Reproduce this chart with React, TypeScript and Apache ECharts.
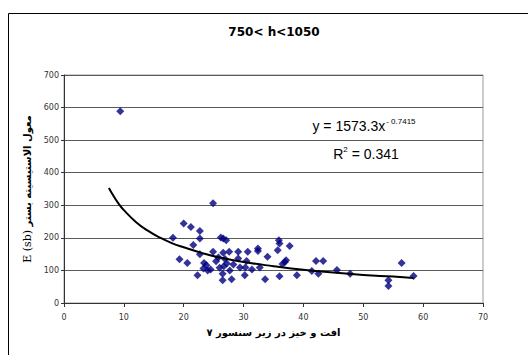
import React, { useEffect, useRef } from "react";
import * as echarts from "echarts";

const titleText = "750< h<1050";
const xAxisName = "افت و خیز در زیر سنسور ۷";
const yAxisNameLatin = "E (sb) ";
const yAxisNamePersian = "معول الاستیسیته بستر";
const xTicks = [0, 10, 20, 30, 40, 50, 60, 70];
const yTicks = [0, 100, 200, 300, 400, 500, 600, 700];

const scatterX = [
  9.4, 18.2, 19.3, 20.0, 20.6, 21.2, 21.6, 22.3, 22.7, 22.7, 22.7, 23.4, 23.3, 24.5, 24.9, 24.9,
  25.4, 26.2, 26.6, 27.1, 26.6, 27.6, 26.7, 27.2, 26.5, 26.5, 28.0, 27.7, 29.1, 29.1, 29.4, 30.2,
  30.7, 30.5, 30.3, 31.4, 32.4, 32.4, 32.7, 33.6, 34.0, 35.9, 36.0, 35.7, 36.0, 37.7, 36.9, 37.1,
  38.9, 36.5, 41.4, 42.1, 43.3, 42.5, 45.6, 47.8, 54.2, 54.2, 56.4, 58.4, 24.0, 26.0, 28.3, 25.8,
  23.8, 26.9,
];
const scatterY = [
  589, 200, 134, 244, 123, 233, 178, 85, 221, 198, 150, 123, 106, 103, 306, 157,
  128, 201, 198, 193, 154, 157, 113, 121, 90, 70, 73, 100, 157, 137, 109, 85,
  157, 129, 109, 103, 167, 160, 109, 73, 142, 193, 183, 162, 82, 175, 126, 131,
  85, 120, 98, 129, 129, 90, 101, 90, 70, 52, 123, 83, 100, 108, 118, 140,
  116, 135,
];

const trendX = [7.5, 8, 9, 10, 12, 14, 16, 18, 20, 23, 26, 30, 35, 40, 45, 50, 55, 58.4];
const trendY = [353, 337, 308, 285, 249, 222, 201, 184, 171, 154, 140, 126, 113, 102, 94, 86, 81, 77];

const eqMain = "y = 1573.3x";
const eqExp = "- 0.7415";
const r2Value = "0.341";

export default function App() {
  const ref = useRef<HTMLDivElement>(null);

  useEffect(() => {
    if (!ref.current) return;
    const chart = echarts.init(ref.current, null, { renderer: "svg" });
    const scatterData = scatterX.map((x, i) => [x, scatterY[i]]);
    const trendData = trendX.map((x, i) => [x, trendY[i]]);
    chart.setOption({
      animation: false,
      backgroundColor: "#ffffff",
      title: {
        text: titleText,
        left: 269,
        textAlign: "center",
        top: 21,
        textStyle: { fontFamily: "DejaVu Sans", fontWeight: "bold", fontSize: 12, color: "#000" },
      },
      grid: {
        left: 64,
        right: 45,
        top: 75,
        bottom: 52,
        show: true,
        borderColor: "#9a9a9a",
        borderWidth: 1,
        backgroundColor: "#fff",
      },
      xAxis: {
        type: "value",
        min: xTicks[0],
        max: xTicks[xTicks.length - 1],
        interval: 10,
        name: xAxisName,
        nameLocation: "middle",
        nameGap: 24,
        nameTextStyle: { fontFamily: "DejaVu Sans", fontWeight: "bold", fontSize: 10, color: "#000" },
        axisLine: { show: true, onZero: false, lineStyle: { color: "#333", width: 1 } },
        axisTick: { show: true, length: 4, lineStyle: { color: "#333" } },
        axisLabel: { fontFamily: "DejaVu Sans", fontSize: 8, color: "#333", margin: 10 },
        splitLine: { show: false },
      },
      yAxis: {
        type: "value",
        min: yTicks[0],
        max: yTicks[yTicks.length - 1],
        interval: 100,
        name: "{lat|" + yAxisNameLatin + "}{per|" + yAxisNamePersian + "}",
        nameLocation: "middle",
        nameGap: 25,
        nameRotate: 90,
        nameTextStyle: {
          rich: {
            lat: { fontFamily: "DejaVu Serif", fontSize: 11, color: "#000" },
            per: { fontFamily: "DejaVu Sans", fontSize: 10, fontWeight: "bold", color: "#000" },
          },
        },
        axisLine: { show: true, lineStyle: { color: "#333", width: 1 } },
        axisTick: { show: true, length: 3, lineStyle: { color: "#333" } },
        axisLabel: { fontFamily: "DejaVu Sans", fontSize: 8, color: "#333", margin: 5 },
        splitLine: { show: true, lineStyle: { color: "#5a5a5a", width: 1 } },
      },
      graphic: [
        {
          type: "rect",
          shape: { x: 8.5, y: 13.5, width: 600, height: 400 },
          style: { fill: "none", stroke: "#000", lineWidth: 1 },
          silent: true,
          z: 10,
        },
        {
          type: "text",
          x: 364,
          y: 126,
          style: {
            text: "{m|" + eqMain + "}{e|" + eqExp + "}",
            align: "center",
            verticalAlign: "middle",
            rich: {
              m: { fontFamily: "Liberation Sans", fontSize: 14, fill: "#000" },
              e: { fontFamily: "Liberation Sans", fontSize: 8, fill: "#000", padding: [0, 0, 10, 1] },
            },
          },
          z: 10,
        },
        {
          type: "text",
          x: 366,
          y: 154,
          style: {
            text: "{m|R}{e|2}{m| = " + r2Value + "}",
            align: "center",
            verticalAlign: "middle",
            rich: {
              m: { fontFamily: "Liberation Sans", fontSize: 14, fill: "#000" },
              e: { fontFamily: "Liberation Sans", fontSize: 8, fill: "#000", padding: [0, 0, 10, 0] },
            },
          },
          z: 10,
        },
      ],
      series: [
        {
          type: "scatter",
          data: scatterData,
          symbol: "diamond",
          symbolSize: 8,
          itemStyle: { color: "#000080" },
          z: 3,
        },
        {
          type: "line",
          data: trendData,
          smooth: true,
          showSymbol: false,
          symbol: "none",
          lineStyle: { color: "#000", width: 2 },
          z: 4,
        },
      ],
    });
    return () => chart.dispose();
  }, []);

  return (
    <div
      ref={ref}
      style={{ position: "fixed", left: 0, top: 0, width: 528, height: 355 }}
    />
  );
}
